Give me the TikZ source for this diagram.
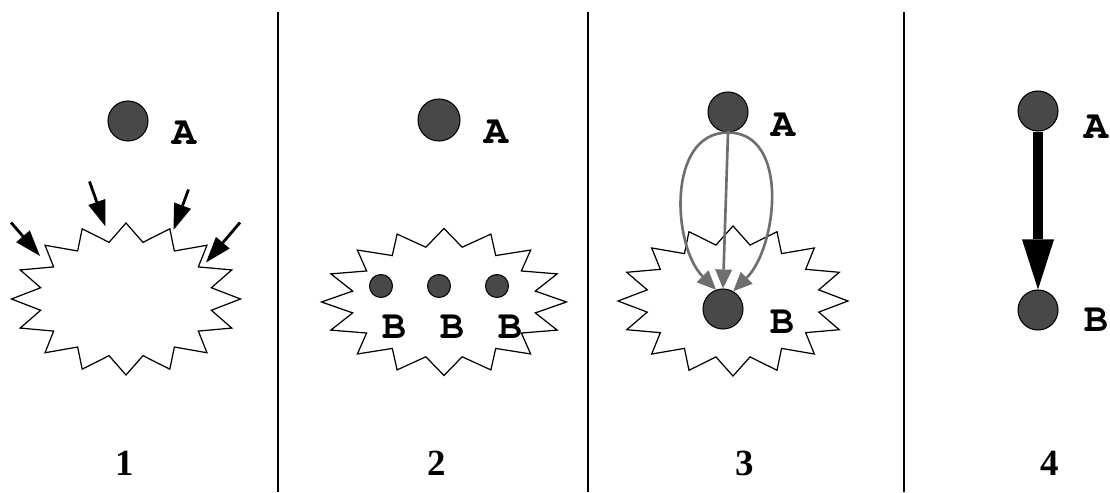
\documentclass[tikz,border=0pt]{standalone}
\usepackage{fontspec}
\setmainfont{Liberation Serif}
\usetikzlibrary{arrows.meta}

\definecolor{dotgray}{RGB}{72,72,72}
\definecolor{flowgray}{RGB}{110,110,110}

% bold courier for the vertex letters
\newcommand{\courb}{\fontencoding{OT1}\fontfamily{pcr}\fontseries{b}\fontsize{23}{25}\selectfont}

% spiky blob: centre x, centre y, outer x radius, outer y radius
\newcommand{\burst}[4]{%
  \begin{scope}[shift={(#1,#2)}]
    \draw[burstline] (0:#3cm and #4cm)
      \foreach \k [evaluate=\k as \rx using {(1-0.24*mod(\k,2))*#3},
                   evaluate=\k as \ry using {(1-0.24*mod(\k,2))*#4}] in {1,...,31}
        { -- (\k*11.25:\rx cm and \ry cm) } -- cycle;
  \end{scope}}

\tikzset{
  dot/.style={circle,draw,fill=dotgray,line width=0.6pt,minimum size=0.8cm,inner sep=0pt},
  smalldot/.style={dot,minimum size=0.46cm},
  lbl/.style={font=\courb,inner sep=0pt},
  num/.style={font=\bfseries\fontsize{21}{23}\selectfont,inner sep=0pt},
  sep/.style={line width=0.85pt},
  burstline/.style={fill=white,line width=0.7pt,line join=miter},
  push/.style={line width=1.6pt,-{Triangle[length=0.52cm,width=0.36cm,line width=0pt]}},
  flow/.style={draw=flowgray,line width=1.5pt,-{Triangle[length=0.38cm,width=0.34cm,line width=0pt]}},
  bond/.style={line width=5.7pt,-{Triangle[length=1cm,width=0.64cm,line width=0pt]}}
}

\begin{document}
\begin{tikzpicture}
    \useasboundingbox (0,0) rectangle (22.2,9.84);
    % separators
    \draw[sep] (5.56,0)--(5.56,9.6);
    \draw[sep] (11.76,0)--(11.76,9.6);
    \draw[sep] (18.08,0)--(18.08,9.6);
    % 1
    \burst{2.52}{3.86}{2.29}{1.52}
    \node[dot] (a1) at (2.56,7.42) {};
    \node[lbl] (la1) at (3.68,7.18) {A};
    \coordinate (s1) at (0.22,5.39); \coordinate (t1) at (0.8,4.72);
    \coordinate (s2) at (1.79,6.21); \coordinate (t2) at (2.11,5.31);
    \coordinate (s3) at (3.77,6.05); \coordinate (t3) at (3.47,5.24);
    \coordinate (s4) at (4.8,5.39);  \coordinate (t4) at (4.12,4.59);
    \foreach \i in {1,...,4}
        \draw[push] (s\i)--(t\i);
    % 2
    \burst{8.88}{3.8}{2.45}{1.47}
    \node[dot,minimum size=0.84cm] (a2) at (8.78,7.44) {};
    \node[lbl] (la2) at (9.92,7.2) {A};
    \foreach \x [count=\j] in {7.62,8.78,9.94}{
        \node[smalldot] (b2\j) at (\x,4.12) {};
        \node[lbl] (lb2\j) at (\x+0.26,3.3) {B};
    }
    % 3
    \burst{14.66}{3.82}{2.3}{1.5}
    \node[dot] (a3) at (14.56,7.6) {};
    \node[lbl] (la3) at (15.66,7.34) {A};
    \node[dot] (b3) at (14.46,3.66) {};
    \node[lbl] (lb3) at (15.64,3.4) {B};
    \draw[flow] (a3.south) -- (b3.north);
    \draw[flow] (a3.south) to[out=180,in=135] (b3.110);
    \draw[flow] (a3.south) to[out=0,in=45] (b3.60);
    % 4
    \node[dot] (a4) at (20.76,7.62) {};
    \node[lbl] (la4) at (21.92,7.3) {A};
    \node[dot] (b4) at (20.76,3.64) {};
    \node[lbl] (lb4) at (21.92,3.44) {B};
    \draw[bond] (a4.south) -- (b4.north);
    % step numbers
    \node[num] (n1) at (2.5,0.58) {1};
    \node[num] (n2) at (8.74,0.58) {2};
    \node[num] (n3) at (14.9,0.58) {3};
    \node[num] (n4) at (21.0,0.58) {4};
\end{tikzpicture}
\end{document}
